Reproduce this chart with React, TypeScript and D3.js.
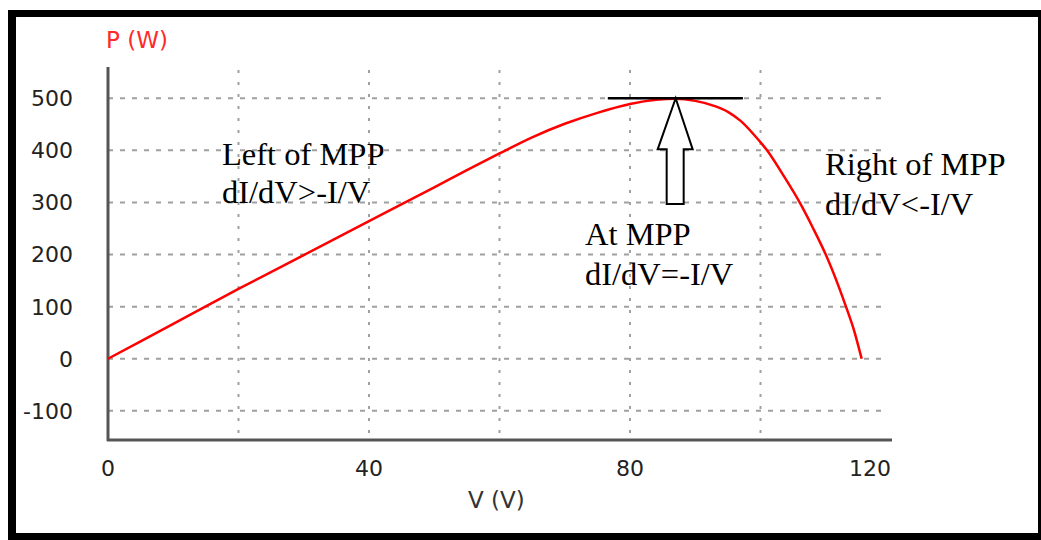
import React from "react";
import * as d3 from "d3";

const voltage = [0, 10, 20, 30, 40, 50, 55, 60, 65, 70, 75, 80, 84, 87, 90, 93, 95, 97, 99, 101, 103.5, 106, 108, 110, 112, 113.1, 114.3, 115.5];
const power = [0, 67, 134, 199, 264, 329, 362, 394, 425, 451, 472, 489, 497, 499, 495, 485, 474, 456, 430, 400, 352, 300, 252, 200, 138, 100, 56, 0];
const yTicks = [-100, 0, 100, 200, 300, 400, 500];
const xGrid = [20, 40, 60, 80, 100];
const xTicks = [0, 40, 80, 120];

const W = 1041;
const H = 540;

export default function App() {
  const x = d3.scaleLinear().domain([0, 120]).range([108, 891]);
  const y = d3.scaleLinear().domain([-156, 560]).range([440, 67]);
  const pts = voltage.map((v, i) => [v, power[i]] as [number, number]);
  const line = d3
    .line<[number, number]>()
    .x((d) => x(d[0]))
    .y((d) => y(d[1]))
    .curve(d3.curveMonotoneX);

  const mppV = 87;
  const tipY = y(500);
  const headY = y(402);
  const botY = y(297);
  const cx = x(mppV);
  const arrow = [
    [cx, tipY],
    [cx + 17, headY],
    [cx + 8, headY],
    [cx + 8, botY],
    [cx - 9, botY],
    [cx - 9, headY],
    [cx - 18, headY],
  ]
    .map((p) => p.join(","))
    .join(" ");

  const sans = "'DejaVu Sans', Verdana, sans-serif";
  const serif = "'Liberation Serif', 'Times New Roman', serif";

  return (
    <svg
      width={W}
      height={H}
      style={{ position: "absolute", left: 0, top: 0, background: "#fff" }}
    >
      <rect x={0} y={0} width={W} height={H} fill="#fff" />
      {/* frame */}
      <rect x={8} y={10} width={8} height={530} fill="#000" />
      <rect x={8} y={10} width={1033} height={7} fill="#000" />
      <rect x={1038} y={10} width={3} height={530} fill="#000" />
      <rect x={8} y={533} width={1033} height={7} fill="#000" />

      {/* horizontal grid */}
      {yTicks.map((t) => (
        <line
          key={"h" + t}
          x1={x(0)}
          x2={886}
          y1={y(t)}
          y2={y(t)}
          stroke="#a0a0a0"
          strokeWidth={2}
          strokeDasharray="5,7"
        />
      ))}
      {/* vertical grid */}
      {xGrid.map((t) => (
        <line
          key={"v" + t}
          x1={x(t)}
          x2={x(t)}
          y1={70}
          y2={440}
          stroke="#a0a0a0"
          strokeWidth={2}
          strokeDasharray="3,9"
        />
      ))}

      {/* axes */}
      <line x1={x(0)} x2={x(0)} y1={67} y2={441} stroke="#555" strokeWidth={3} />
      <line x1={x(0) - 1} x2={892} y1={440} y2={440} stroke="#555" strokeWidth={3} />

      {/* y tick labels */}
      {yTicks.map((t) => (
        <text
          key={"yl" + t}
          x={73}
          y={y(t)}
          dy="0.36em"
          textAnchor="end"
          fontFamily={sans}
          fontSize={22}
          fill="#222"
        >
          {t}
        </text>
      ))}
      {/* x tick labels */}
      {xTicks.map((t, i) => (
        <text
          key={"xl" + t}
          x={x(t)}
          y={476}
          textAnchor={i === xTicks.length - 1 ? "end" : "middle"}
          fontFamily={sans}
          fontSize={22}
          fill="#222"
        >
          {t}
        </text>
      ))}

      <text x={106} y={48} fontFamily={sans} fontSize={23} fill="#ff2a2a">
        P (W)
      </text>
      <text x={468} y={508} fontFamily={sans} fontSize={23} fill="#333">
        V (V)
      </text>

      {/* curve */}
      <path d={line(pts) || ""} fill="none" stroke="#ff0000" strokeWidth={2.5} />

      {/* tangent line at MPP */}
      <line x1={x(76.6)} x2={x(97.3)} y1={y(500)} y2={y(500)} stroke="#000" strokeWidth={2.5} />
      <polygon points={arrow} fill="#fff" stroke="#000" strokeWidth={2} strokeLinejoin="miter" />

      {/* annotations */}
      <g fontFamily={serif} fontSize={32.5} fill="#000">
        <text x={222} y={165}>Left of MPP</text>
        <text x={222} y={203}>dI/dV&gt;-I/V</text>
        <text x={585} y={245}>At MPP</text>
        <text x={585} y={285}>dI/dV=-I/V</text>
        <text x={825} y={175}>Right of MPP</text>
        <text x={825} y={215}>dI/dV&lt;-I/V</text>
      </g>
    </svg>
  );
}
